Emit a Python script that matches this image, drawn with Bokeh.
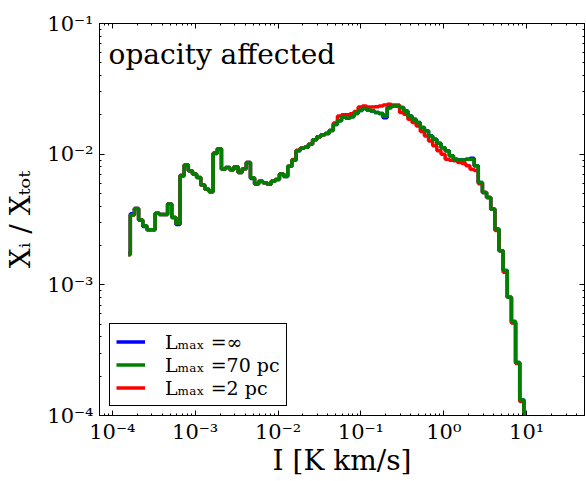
import numpy as np
from bokeh.plotting import figure
from bokeh.models import (Range1d, LogAxis, LogTicker, Legend, LegendItem, Label,
                          ColumnDataSource, CustomJSTickFormatter)
from bokeh.embed import file_html
from bokeh.resources import INLINE

# ---- data ----
log_I_first_center = -3.808   # log10 of first bin centre [K km/s]
dlog_I = 0.05                  # log-bin width

frac_70pc = [1.70e-3, 3.42e-3, 3.84e-3, 3.13e-3, 2.83e-3, 2.64e-3, 2.64e-3, 3.53e-3, 3.46e-3, 3.46e-3,
             4.15e-3, 3.27e-3, 2.96e-3, 6.82e-3, 8.28e-3, 7.45e-3, 7.06e-3, 6.62e-3, 5.82e-3, 5.40e-3,
             5.15e-3, 1.01e-2, 1.10e-2, 7.68e-3, 7.90e-3, 7.59e-3, 8.00e-3, 7.23e-3, 7.72e-3, 8.63e-3,
             6.59e-3, 5.90e-3, 6.20e-3, 6.04e-3, 5.88e-3, 6.20e-3, 6.41e-3, 7.06e-3, 6.76e-3, 8.07e-3,
             8.97e-3, 1.06e-2, 1.11e-2, 1.13e-2, 1.19e-2, 1.29e-2, 1.36e-2, 1.41e-2, 1.44e-2, 1.52e-2,
             1.69e-2, 1.80e-2, 1.93e-2, 1.88e-2, 1.93e-2, 2.05e-2, 2.16e-2, 2.24e-2, 2.18e-2, 2.14e-2,
             2.08e-2, 2.05e-2, 1.95e-2, 2.26e-2, 2.34e-2, 2.34e-2, 2.28e-2, 2.14e-2, 1.96e-2, 1.85e-2,
             1.75e-2, 1.60e-2, 1.51e-2, 1.38e-2, 1.30e-2, 1.21e-2, 1.12e-2, 1.06e-2, 9.71e-3, 9.13e-3,
             9.04e-3, 9.04e-3, 9.13e-3, 9.13e-3, 8.14e-3, 6.07e-3, 5.08e-3, 4.65e-3, 3.80e-3, 2.67e-3,
             1.82e-3, 1.29e-3, 8.02e-4, 5.27e-4, 2.55e-4, 1.32e-4, 5.0e-5]

frac_inf = [1.75e-3, 3.50e-3, 3.84e-3, 3.13e-3, 2.80e-3, 2.64e-3, 2.64e-3, 3.53e-3, 3.46e-3, 3.46e-3,
            4.15e-3, 3.27e-3, 2.90e-3, 6.90e-3, 8.28e-3, 7.45e-3, 7.06e-3, 6.62e-3, 5.82e-3, 5.40e-3,
            5.15e-3, 1.02e-2, 1.10e-2, 7.68e-3, 7.90e-3, 7.59e-3, 8.00e-3, 7.23e-3, 7.72e-3, 8.63e-3,
            6.50e-3, 5.90e-3, 6.20e-3, 6.04e-3, 5.88e-3, 6.20e-3, 6.41e-3, 7.06e-3, 6.76e-3, 8.07e-3,
            8.97e-3, 1.06e-2, 1.11e-2, 1.13e-2, 1.19e-2, 1.29e-2, 1.36e-2, 1.41e-2, 1.44e-2, 1.52e-2,
            1.69e-2, 1.80e-2, 1.93e-2, 1.88e-2, 1.93e-2, 2.05e-2, 2.16e-2, 2.24e-2, 2.18e-2, 2.14e-2,
            2.08e-2, 2.05e-2, 1.90e-2, 2.28e-2, 2.34e-2, 2.34e-2, 2.28e-2, 2.14e-2, 1.96e-2, 1.85e-2,
            1.75e-2, 1.60e-2, 1.51e-2, 1.38e-2, 1.30e-2, 1.21e-2, 1.12e-2, 1.06e-2, 9.71e-3, 9.13e-3,
            9.04e-3, 9.04e-3, 9.13e-3, 9.30e-3, 8.14e-3, 6.07e-3, 5.08e-3, 4.65e-3, 3.80e-3, 2.67e-3,
            1.82e-3, 1.29e-3, 8.02e-4, 5.15e-4, 2.55e-4, 1.32e-4, 5.0e-5]

frac_2pc = [1.70e-3, 3.42e-3, 3.84e-3, 3.13e-3, 2.83e-3, 2.64e-3, 2.64e-3, 3.53e-3, 3.46e-3, 3.46e-3,
            4.15e-3, 3.27e-3, 2.96e-3, 6.82e-3, 8.28e-3, 7.45e-3, 7.06e-3, 6.62e-3, 5.82e-3, 5.40e-3,
            5.15e-3, 1.01e-2, 1.10e-2, 7.68e-3, 7.90e-3, 7.59e-3, 8.00e-3, 7.23e-3, 7.72e-3, 8.63e-3,
            6.59e-3, 5.90e-3, 6.20e-3, 6.04e-3, 5.88e-3, 6.20e-3, 6.41e-3, 7.06e-3, 6.90e-3, 8.07e-3,
            9.10e-3, 1.07e-2, 1.11e-2, 1.13e-2, 1.19e-2, 1.29e-2, 1.36e-2, 1.41e-2, 1.44e-2, 1.52e-2,
            1.73e-2, 1.96e-2, 2.00e-2, 2.00e-2, 2.04e-2, 2.12e-2, 2.30e-2, 2.34e-2, 2.30e-2, 2.30e-2,
            2.31e-2, 2.34e-2, 2.38e-2, 2.41e-2, 2.38e-2, 2.38e-2, 2.08e-2, 2.02e-2, 1.85e-2, 1.75e-2,
            1.64e-2, 1.49e-2, 1.38e-2, 1.26e-2, 1.16e-2, 1.06e-2, 1.00e-2, 9.16e-3, 9.00e-3, 8.89e-3,
            8.63e-3, 8.48e-3, 8.14e-3, 7.68e-3, 7.50e-3, 5.95e-3, 5.08e-3, 4.65e-3, 3.80e-3, 2.60e-3,
            1.82e-3, 1.25e-3, 8.02e-4, 5.10e-4, 2.50e-4, 1.28e-4, 5.0e-5]

series_labels = ["L\u2098\u2090\u2093 =\u221e", "L\u2098\u2090\u2093 =70 pc", "L\u2098\u2090\u2093 =2 pc"]
series_colors = ["#0000ff", "#008000", "#ff0000"]

I_centers = 10 ** (log_I_first_center + dlog_I * np.arange(len(frac_70pc)))

SERIF = "DejaVu Serif"

p = figure(width=586, height=481, x_axis_type="log", y_axis_type="log",
           x_range=Range1d(7e-5, 50), y_range=Range1d(1e-4, 1e-1),
           output_backend="svg", toolbar_location=None,
           min_border_left=99, min_border_right=2, min_border_top=23, min_border_bottom=66)
p.grid.visible = False
p.outline_line_color = "black"
p.outline_line_width = 1
p.background_fill_color = "white"
p.border_fill_color = "white"

sup_js = """
const sup = {"-":"\u207b","0":"\u2070","1":"\u00b9","2":"\u00b2","3":"\u00b3","4":"\u2074",
             "5":"\u2075","6":"\u2076","7":"\u2077","8":"\u2078","9":"\u2079"};
const e = Math.round(Math.log10(tick));
return "10" + String(e).split("").map(c => sup[c]).join("");
"""

def style_axis(ax, labels=True):
    ax.ticker = LogTicker(mantissas=[1], num_minor_ticks=10)
    ax.major_tick_in = 5
    ax.major_tick_out = 0
    ax.minor_tick_in = 2
    ax.minor_tick_out = 0
    ax.axis_line_color = "black"
    ax.major_tick_line_color = "black"
    ax.minor_tick_line_color = "black"
    if labels:
        ax.formatter = CustomJSTickFormatter(code=sup_js)
        ax.major_label_text_font = SERIF
        ax.major_label_text_font_size = "21px"
        ax.major_label_text_color = "black"
    else:
        ax.formatter = CustomJSTickFormatter(code="return '1';")
        ax.major_label_text_font_size = "1px"
        ax.major_label_text_alpha = 0
        ax.major_label_standoff = 0

xa = p.xaxis[0]
ya = p.yaxis[0]
style_axis(xa)
style_axis(ya)
xa.major_label_standoff = 4
ya.major_label_standoff = 6
xa.axis_label = "I [K km/s]"
ya.axis_label = "X\u1d62 / X\u209c\u2092\u209c"
for ax in (xa, ya):
    ax.axis_label_text_font = SERIF
    ax.axis_label_text_font_size = "28px"
    ax.axis_label_text_font_style = "normal"
    ax.axis_label_text_color = "black"
xa.axis_label_standoff = -3
ya.axis_label_standoff = 7

top_ax = LogAxis()
right_ax = LogAxis()
style_axis(top_ax, labels=False)
style_axis(right_ax, labels=False)
p.add_layout(top_ax, "above")
p.add_layout(right_ax, "right")

src = ColumnDataSource(dict(I=I_centers, inf=frac_inf, pc70=frac_70pc, pc2=frac_2pc))
r_inf = p.step(x="I", y="inf", source=src, mode="center", line_color=series_colors[0], line_width=3.5)
r_2 = p.step(x="I", y="pc2", source=src, mode="center", line_color=series_colors[2], line_width=3.5)
r_70 = p.step(x="I", y="pc70", source=src, mode="center", line_color=series_colors[1], line_width=3.5)

legend = Legend(items=[LegendItem(label=series_labels[0], renderers=[r_inf]),
                       LegendItem(label=series_labels[1], renderers=[r_70]),
                       LegendItem(label=series_labels[2], renderers=[r_2])],
                location=(10, 9), orientation="vertical",
                label_text_font=SERIF, label_text_font_size="19px", label_text_color="black",
                glyph_width=29, glyph_height=23, label_height=23, label_standoff=20,
                spacing=0, padding=6, margin=0,
                border_line_color="black", border_line_width=1, border_line_alpha=1,
                background_fill_color="white", background_fill_alpha=1)
p.add_layout(legend)

title_lbl = Label(x=9.0e-5, y=10 ** (-1 - (37 - 22.7) / 130.7), text="opacity affected",
                  text_font=SERIF, text_font_size="28px", text_color="black",
                  text_baseline="top", text_align="left")
p.add_layout(title_lbl)

open("out.html", "w").write(file_html(p, INLINE))
